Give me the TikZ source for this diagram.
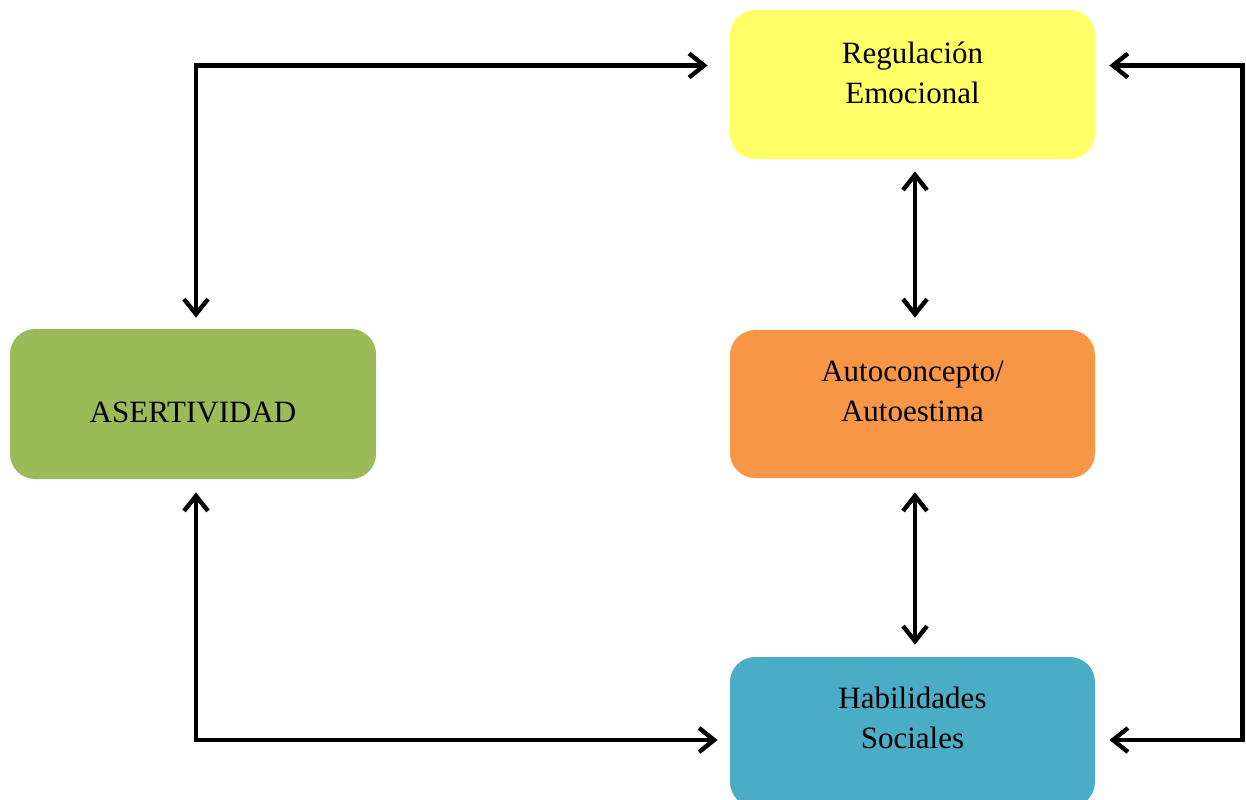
\documentclass[tikz,border=0pt]{standalone}
\usepackage{fontspec}
\setmainfont{Liberation Serif}
\usepackage{xcolor}
\usepackage{tikz}
\usetikzlibrary{positioning,arrows.meta,calc}

\definecolor{regyellow}{HTML}{FFFF66}
\definecolor{asrgreen}{HTML}{9BBB59}
\definecolor{autoorange}{HTML}{F79646}
\definecolor{habblue}{HTML}{4BACC6}

\begin{document}
\begin{tikzpicture}[x=0.5pt, y=-0.5pt, font=\fontsize{15.5}{20}\selectfont,
  box/.style={rounded corners=12.5pt, inner sep=0pt, minimum width=182.5pt, minimum height=74.5pt},
  lbl/.style={align=center, inner sep=0pt},
  arr/.style={{Straight Barb[length=7.5pt, width=12pt]}-{Straight Barb[length=7.5pt, width=12pt]}, line width=2.2pt}]
\useasboundingbox (0,0) rectangle (1246,799);
% boxes
\node[box, fill=regyellow] (reg) at (912.5,84.5) {};
\node[box, fill=autoorange, minimum height=74pt] (auto) at (912.5,404) {};
\node[box, fill=asrgreen, minimum width=183pt, minimum height=75pt] (asr) at (193,404) {};
\node[box, fill=habblue, minimum height=75pt] (hab) at (912.5,732) {};
% texts
\node[lbl] (regt) at ($(reg.center)+(0,-12)$) {Regulación\\Emocional};
\node[lbl] (autot) at ($(auto.center)+(0,-13)$) {Autoconcepto/\\Autoestima};
\node[lbl] (asrt) at ($(asr.center)+(0,8)$) {ASERTIVIDAD};
\node[lbl] (habt) at ($(hab.center)+(0,-14)$) {Habilidades\\Sociales};
% connectors
\draw[arr] ($(asr.north)+(3,-11)$) |- ($(reg.west)+(-22,-19)$);
\draw[arr] ($(reg.south)+(2.5,12)$) -- ($(auto.north)+(2.5,-12)$);
\draw[arr] ($(auto.south)+(2.5,14)$) -- ($(hab.north)+(2.5,-12)$);
\draw[arr] ($(asr.south)+(3,13)$) |- ($(hab.west)+(-12,8)$);
\draw[arr] ($(reg.east)+(14,-19)$) -- ++(133,0) |- ($(hab.east)+(14,8)$);
\end{tikzpicture}
\end{document}
